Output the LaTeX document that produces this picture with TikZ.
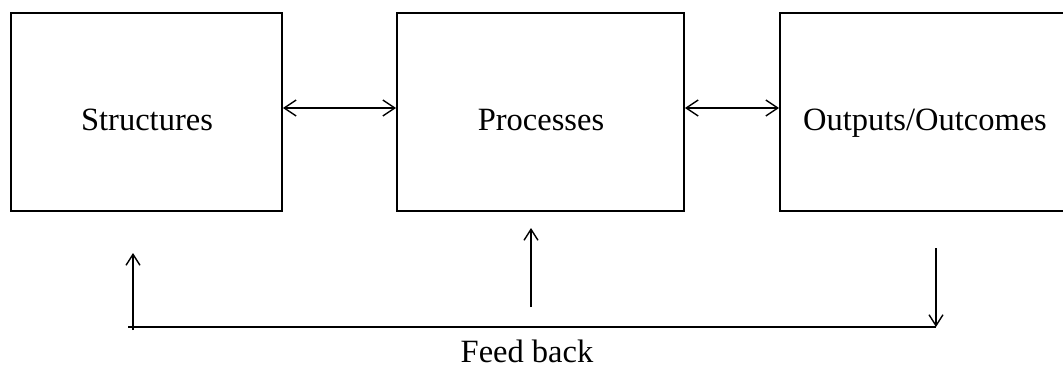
\documentclass[tikz,border=0pt]{standalone}
\usepackage{fontspec}
\setmainfont{Liberation Serif}
\usetikzlibrary{arrows.meta}

\begin{document}
\begin{tikzpicture}[x=1pt,y=-1pt,
  blok/.style={draw,line width=1.8pt,inner sep=0pt,minimum height=198pt},
  lbl/.style={font=\fontsize{32.5}{36}\selectfont,anchor=base,inner sep=0pt},
  link/.style={line width=1.4pt,{Straight Barb[length=12pt,width=16pt]}-{Straight Barb[length=12pt,width=16pt]}},
  fbline/.style={line width=1.4pt},
  fbarrow/.style={line width=1.4pt,-{Straight Barb[length=11pt,width=14pt]}}]
\useasboundingbox (0,0) rectangle (1063,369);
\node[blok,minimum width=271pt] (str) at (146.5,112) {};
\node[blok,minimum width=287pt] (proc) at (540.5,112) {};
\node[blok,minimum width=288pt] (out) at (924,112) {};
\node[lbl] (strT) at (147,130) {Structures};
\node[lbl] (procT) at (541,130) {Processes};
\node[lbl] (outT) at (925,130) {Outputs/Outcomes};
\draw[link] ([yshift=4pt]str.east) -- ([yshift=4pt]proc.west);
\draw[link] ([yshift=4pt]proc.east) -- ([yshift=4pt]out.west);
% feed back loop
\coordinate (fbL) at (133,327);
\coordinate (fbR) at (936,327);
\coordinate (strTip) at (133,253);
\coordinate (procFoot) at (531,307);
\coordinate (procTip) at (531,228);
\coordinate (outTop) at (936,248);
\draw[fbline] (128,327) -- (fbR);
\draw[fbarrow] ([yshift=-3pt]fbL) -- (strTip);
\draw[fbarrow] (procFoot) -- (procTip);
\draw[fbarrow] (outTop) -- (fbR);
\node[lbl] (fb) at (527,362) {Feed back};
\end{tikzpicture}
\end{document}
